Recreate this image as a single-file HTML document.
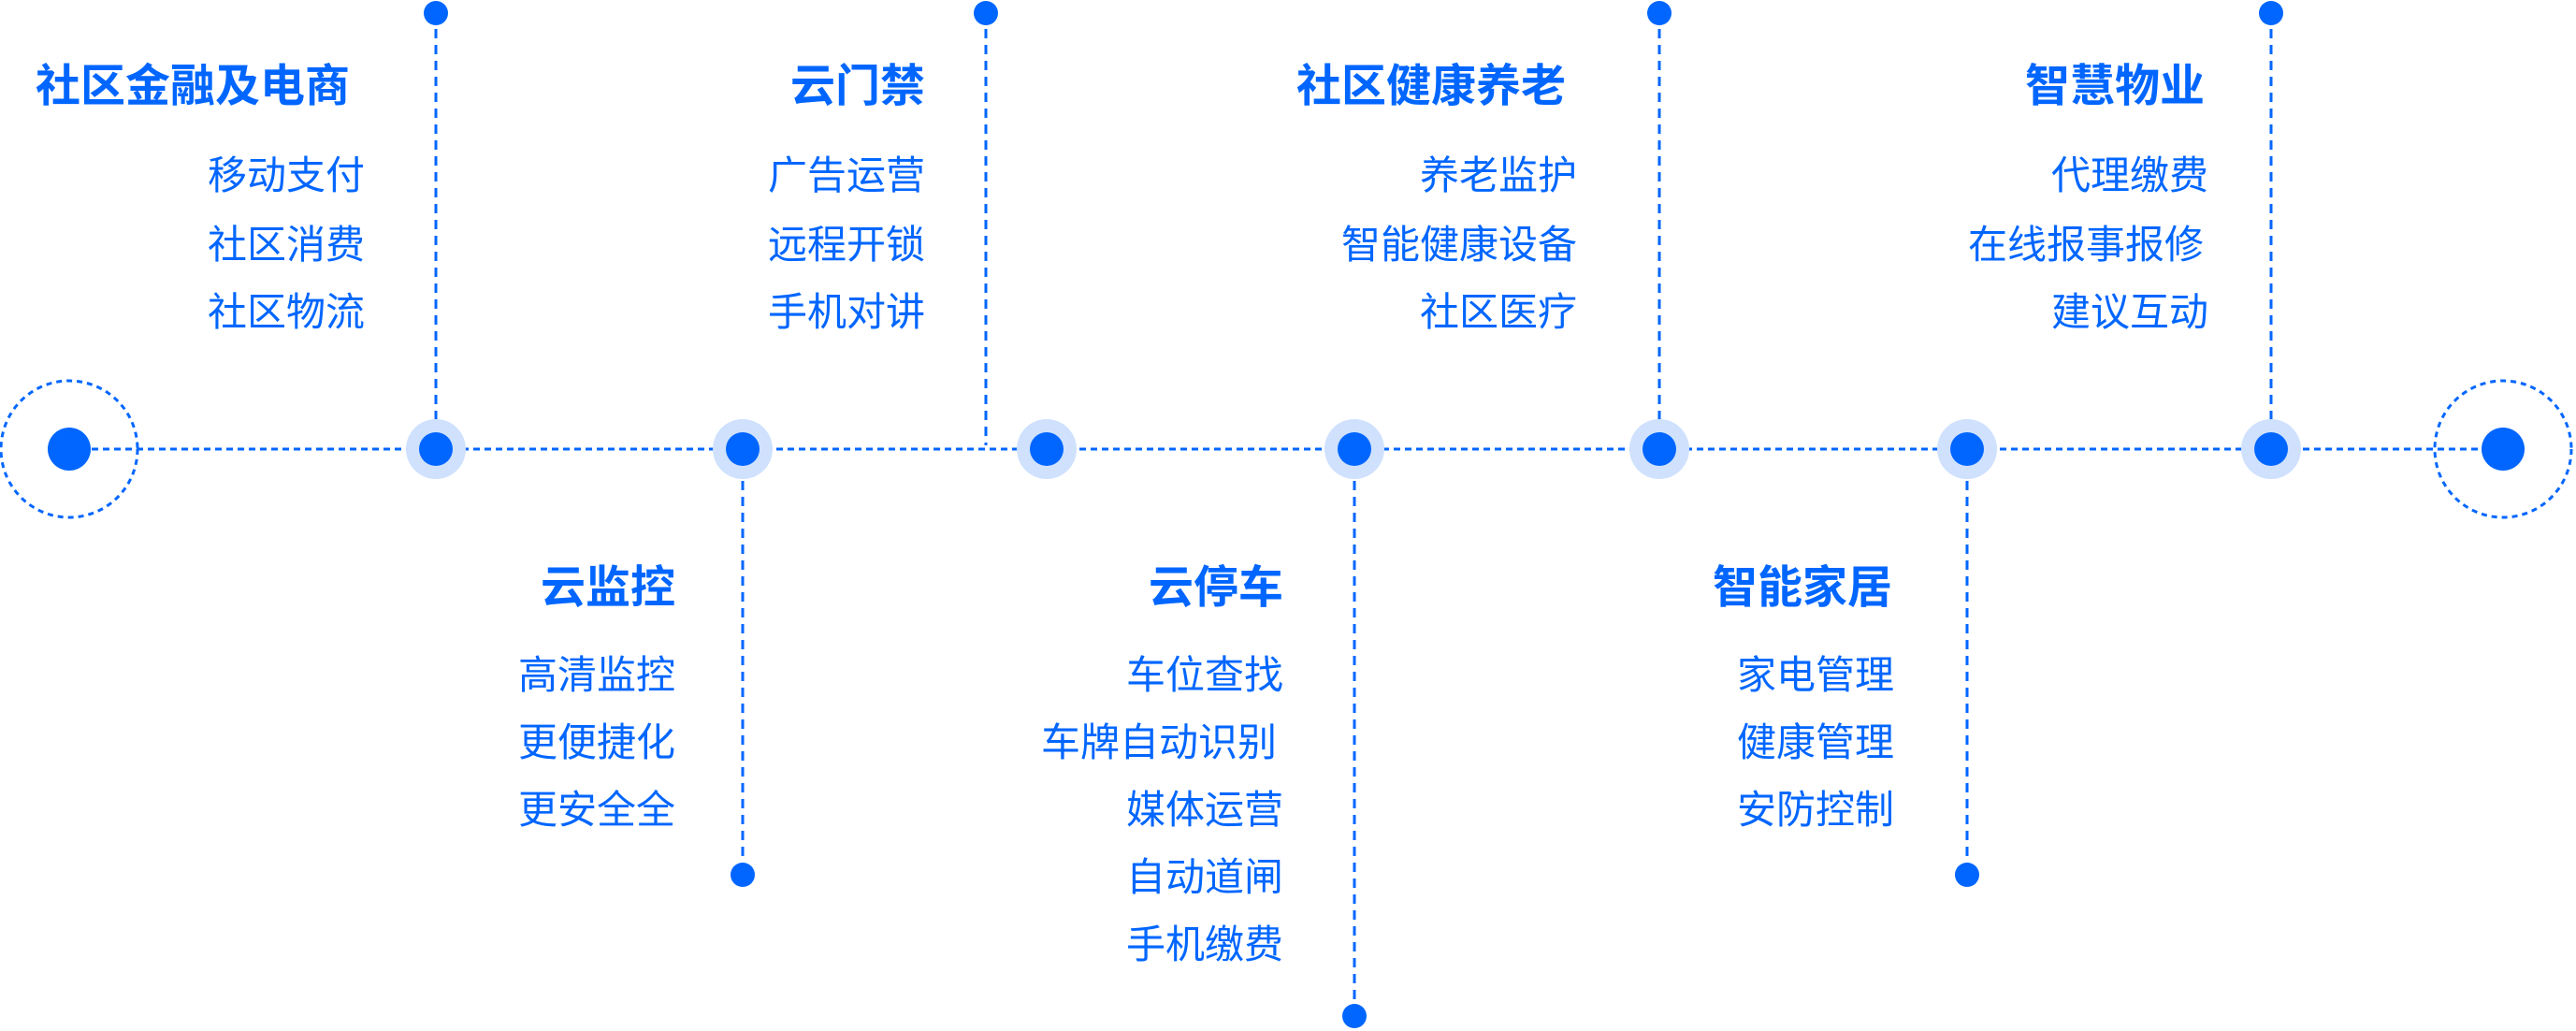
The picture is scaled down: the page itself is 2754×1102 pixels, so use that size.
<!DOCTYPE html>
<html><head><meta charset="utf-8"><style>
html,body{margin:0;padding:0;background:#fff;}
#c{position:relative;width:2754px;height:1102px;overflow:hidden;font-family:"Liberation Sans","Noto Sans CJK SC",sans-serif;color:#0066ff;}
.t{position:absolute;line-height:60px;white-space:nowrap;text-align:right;}
.h{font-size:48px;font-weight:bold;}
.i{font-size:42px;}
svg{position:absolute;left:0;top:0;}
</style></head><body><div id="c">
<svg width="2754" height="1102">
<g stroke="#0066ff" stroke-width="3" fill="none">
<line x1="74" y1="480" x2="2676" y2="480" stroke-dasharray="7 5"/>
<g stroke-dasharray="10 7">
<line x1="466" y1="14" x2="466" y2="480"/>
<line x1="1054" y1="14" x2="1054" y2="476"/>
<line x1="1774" y1="14" x2="1774" y2="480"/>
<line x1="2428" y1="14" x2="2428" y2="480"/>
<line x1="794" y1="480" x2="794" y2="935"/>
<line x1="1448" y1="480" x2="1448" y2="1086"/>
<line x1="2103" y1="480" x2="2103" y2="935"/>
</g>
<circle cx="74" cy="480" r="73" stroke-dasharray="6 5"/>
<circle cx="2676" cy="480" r="73" stroke-dasharray="6 5"/>
</g>
<g fill="#cfe1fd">
<circle cx="466" cy="480" r="32"/><circle cx="794" cy="480" r="32"/><circle cx="1119" cy="480" r="32"/>
<circle cx="1448" cy="480" r="32"/><circle cx="1774" cy="480" r="32"/><circle cx="2103" cy="480" r="32"/><circle cx="2428" cy="480" r="32"/>
</g>
<g fill="#0066ff">
<circle cx="74" cy="480" r="23"/><circle cx="2676" cy="480" r="23"/>
<circle cx="466" cy="480" r="18"/><circle cx="794" cy="480" r="18"/><circle cx="1119" cy="480" r="18"/>
<circle cx="1448" cy="480" r="18"/><circle cx="1774" cy="480" r="18"/><circle cx="2103" cy="480" r="18"/><circle cx="2428" cy="480" r="18"/>
<circle cx="466" cy="14" r="13"/><circle cx="1054" cy="14" r="13"/><circle cx="1774" cy="14" r="13"/><circle cx="2428" cy="14" r="13"/>
<circle cx="794" cy="935" r="13"/><circle cx="1448" cy="1086" r="13"/><circle cx="2103" cy="935" r="13"/>
</g>
</svg>

<div class="t h" style="right:2380px;top:63px">社区金融及电商</div>
<div class="t i" style="right:2364px;top:158px">移动支付</div>
<div class="t i" style="right:2364px;top:232px">社区消费</div>
<div class="t i" style="right:2364px;top:304px">社区物流</div>

<div class="t h" style="right:1765px;top:63px">云门禁</div>
<div class="t i" style="right:1765px;top:158px">广告运营</div>
<div class="t i" style="right:1765px;top:232px">远程开锁</div>
<div class="t i" style="right:1765px;top:304px">手机对讲</div>

<div class="t h" style="right:1080px;top:63px">社区健康养老</div>
<div class="t i" style="right:1068px;top:158px">养老监护</div>
<div class="t i" style="right:1068px;top:232px">智能健康设备</div>
<div class="t i" style="right:1068px;top:304px">社区医疗</div>

<div class="t h" style="right:397px;top:63px">智慧物业</div>
<div class="t i" style="right:393px;top:158px">代理缴费</div>
<div class="t i" style="right:398px;top:232px">在线报事报修</div>
<div class="t i" style="right:393px;top:304px">建议互动</div>

<div class="t h" style="right:2032px;top:599px">云监控</div>
<div class="t i" style="right:2032px;top:692px">高清监控</div>
<div class="t i" style="right:2032px;top:764px">更便捷化</div>
<div class="t i" style="right:2032px;top:836px">更安全全</div>

<div class="t h" style="right:1382px;top:599px">云停车</div>
<div class="t i" style="right:1382px;top:692px">车位查找</div>
<div class="t i" style="right:1389px;top:764px">车牌自动识别</div>
<div class="t i" style="right:1382px;top:836px">媒体运营</div>
<div class="t i" style="right:1382px;top:908px">自动道闸</div>
<div class="t i" style="right:1382px;top:980px">手机缴费</div>

<div class="t h" style="right:731px;top:599px">智能家居</div>
<div class="t i" style="right:729px;top:692px">家电管理</div>
<div class="t i" style="right:729px;top:764px">健康管理</div>
<div class="t i" style="right:729px;top:836px">安防控制</div>
</div></body></html>
